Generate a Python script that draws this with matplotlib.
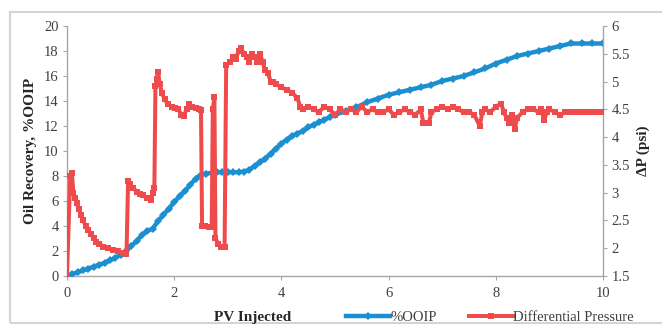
import matplotlib
matplotlib.use("Agg")
import matplotlib.pyplot as plt
from matplotlib.lines import Line2D
from matplotlib.patches import Rectangle

plt.rcParams['font.family'] = ['Liberation Serif', 'DejaVu Serif']

# Oil recovery (%OOIP) vs pore volumes injected
pv_ooip = [0.0, 0.1, 0.2, 0.3, 0.4, 0.5, 0.6, 0.7, 0.8, 0.9,
           1.0, 1.1, 1.2, 1.3, 1.4, 1.5, 1.6, 1.7, 1.8, 1.9,
           2.0, 2.1, 2.2, 2.3, 2.4, 2.5, 2.6, 2.7, 2.8, 2.9,
           3.0, 3.1, 3.2, 3.3, 3.4, 3.5, 3.6, 3.7, 3.8, 3.9,
           4.0, 4.1, 4.2, 4.3, 4.4, 4.5, 4.6, 4.7, 4.8, 4.9,
           5.0, 5.2, 5.4, 5.6, 5.8, 6.0, 6.2, 6.4, 6.6, 6.8,
           7.0, 7.2, 7.4, 7.6, 7.8, 8.0, 8.2, 8.4, 8.6, 8.8,
           9.0, 9.2, 9.4, 9.6, 9.8, 10.0]
ooip = [0.0, 0.15, 0.3, 0.45, 0.6, 0.75, 0.9, 1.05, 1.25, 1.45,
        1.7, 2.0, 2.4, 2.8, 3.3, 3.6, 3.8, 4.4, 4.9, 5.4,
        5.9, 6.4, 6.8, 7.3, 7.8, 8.1, 8.2, 8.25, 8.3, 8.3,
        8.3, 8.3, 8.3, 8.35, 8.5, 8.8, 9.1, 9.4, 9.8, 10.2,
        10.6, 10.9, 11.2, 11.4, 11.6, 11.9, 12.1, 12.3, 12.5, 12.7,
        12.9, 13.2, 13.5, 13.9, 14.2, 14.5, 14.7, 14.9, 15.1, 15.3,
        15.6, 15.8, 16.0, 16.3, 16.6, 17.0, 17.3, 17.6, 17.8, 18.0,
        18.2, 18.4, 18.6, 18.6, 18.6, 18.6]

# Differential pressure (psi) vs pore volumes injected
pv_dp = [0.00, 0.06, 0.09, 0.12, 0.15, 0.18, 0.22, 0.26, 0.30, 0.35,
         0.40, 0.45, 0.50, 0.55, 0.60, 0.68, 0.76, 0.86, 0.95, 1.05,
         1.11, 1.14, 1.18, 1.24, 1.30, 1.36, 1.42, 1.50, 1.57, 1.60,
         1.63, 1.65, 1.68, 1.70, 1.73, 1.77, 1.82, 1.88, 1.95, 2.02,
         2.08, 2.13, 2.18, 2.23, 2.27, 2.33, 2.40, 2.46, 2.50, 2.52,
         2.58, 2.64, 2.70, 2.72, 2.75, 2.77, 2.82, 2.88, 2.94, 2.97,
         3.05, 3.10, 3.15, 3.20, 3.25, 3.30, 3.35, 3.40, 3.45, 3.50,
         3.55, 3.60, 3.65, 3.70, 3.75, 3.80, 3.85, 3.90, 4.00, 4.10,
         4.20, 4.30, 4.35, 4.40, 4.50, 4.60, 4.70, 4.80, 4.90, 5.00,
         5.10, 5.20, 5.30, 5.40, 5.50, 5.60, 5.70, 5.80, 5.90, 6.00,
         6.10, 6.20, 6.30, 6.40, 6.50, 6.60, 6.65, 6.75, 6.80, 6.90,
         7.00, 7.10, 7.20, 7.30, 7.40, 7.50, 7.60, 7.70, 7.75, 7.80,
         7.90, 8.00, 8.10, 8.15, 8.20, 8.25, 8.30, 8.35, 8.40, 8.50,
         8.60, 8.70, 8.80, 8.85, 8.90, 8.95, 9.00, 9.10, 9.20, 9.30,
         9.40, 9.50, 9.60, 9.70, 9.80, 9.90, 10.00]
dp = [1.50, 3.30, 3.35, 3.00, 2.90, 2.82, 2.70, 2.60, 2.50, 2.40,
      2.32, 2.25, 2.18, 2.12, 2.08, 2.03, 2.00, 1.97, 1.95, 1.92,
      1.90, 3.21, 3.15, 3.08, 3.02, 2.98, 2.95, 2.90, 2.87, 3.00,
      3.08, 4.92, 5.05, 5.17, 4.95, 4.80, 4.68, 4.60, 4.55, 4.52,
      4.50, 4.40, 4.38, 4.50, 4.60, 4.55, 4.52, 4.50, 4.48, 2.40,
      2.40, 2.38, 2.38, 4.50, 4.72, 2.18, 2.08, 2.03, 2.03, 5.30,
      5.35, 5.45, 5.40, 5.55, 5.60, 5.50, 5.45, 5.35, 5.50, 5.45,
      5.35, 5.50, 5.35, 5.20, 5.15, 5.00, 5.00, 4.95, 4.90, 4.85,
      4.80, 4.70, 4.55, 4.50, 4.55, 4.50, 4.45, 4.55, 4.50, 4.40,
      4.50, 4.45, 4.50, 4.45, 4.55, 4.45, 4.50, 4.45, 4.45, 4.50,
      4.40, 4.45, 4.50, 4.45, 4.40, 4.50, 4.25, 4.25, 4.45, 4.50,
      4.55, 4.50, 4.55, 4.50, 4.45, 4.45, 4.40, 4.20, 4.45, 4.50,
      4.45, 4.55, 4.60, 4.45, 4.35, 4.25, 4.40, 4.15, 4.35, 4.45,
      4.50, 4.50, 4.45, 4.50, 4.30, 4.45, 4.50, 4.45, 4.40, 4.45,
      4.45, 4.45, 4.45, 4.45, 4.45, 4.45, 4.45]

x_ticks = [0, 2, 4, 6, 8, 10]
left_ticks = [0, 2, 4, 6, 8, 10, 12, 14, 16, 18, 20]
right_ticks = [1.5, 2, 2.5, 3, 3.5, 4, 4.5, 5, 5.5, 6]
right_labels = ['1.5', '2', '2.5', '3', '3.5', '4', '4.5', '5', '5.5', '6']

BLUE = '#1b8fd0'
RED = '#ee4c4c'
SPINE = '#a6a6a6'
TXT = '#404040'

W, H = 662, 325
fig = plt.figure(figsize=(W / 100, H / 100), dpi=100)
fig.patch.set_facecolor('white')

# light outer frame
fig.patches.append(Rectangle((10 / W, 2 / H), 1.0, (H - 14) / H, transform=fig.transFigure,
                             fill=False, edgecolor='#d4d4d4', linewidth=1.5))

ax = fig.add_axes([67 / W, 49 / H, 536 / W, 250 / H])
ax2 = ax.twinx()

ax.plot(pv_ooip, ooip, color=BLUE, linewidth=3.2, marker='D', markersize=4.4,
        markeredgewidth=0, zorder=3)
ax2.plot(pv_dp, dp, color=RED, linewidth=2.9, marker='s', markersize=4.6,
         markeredgewidth=0, zorder=3)

ax.set_xlim(0, 10)
ax.set_ylim(0, 20)
ax2.set_ylim(1.5, 6)
ax.set_xticks(x_ticks)
ax.set_yticks(left_ticks)
ax2.set_yticks(right_ticks)
ax2.set_yticklabels(right_labels)

for a in (ax, ax2):
    a.spines['top'].set_visible(False)
    for s in ('left', 'right', 'bottom'):
        a.spines[s].set_color(SPINE)
        a.spines[s].set_linewidth(1.0)
    a.tick_params(direction='out', length=3, width=0.8, color=SPINE,
                  labelsize=10.5, labelcolor=TXT)
ax.spines['right'].set_visible(False)
ax2.spines['left'].set_visible(False)
ax2.spines['bottom'].set_visible(False)
ax.tick_params(axis='x', pad=5)
ax.tick_params(axis='y', pad=3)
ax2.tick_params(axis='y', pad=3)

ax.set_ylabel('Oil Recovery, %OOIP', fontsize=11, fontweight='bold', color='#262626', labelpad=5)
ax2.set_ylabel('ΔP (psi)', fontsize=11, fontweight='bold', color='#262626', labelpad=5)
fig.text(253 / W, 1 - 318 / H, 'PV Injected', fontsize=11, fontweight='bold',
         color='#262626', ha='center', va='center')

handles = [
    Line2D([], [], color=BLUE, linewidth=3.2, marker='D', markersize=4.4, markeredgewidth=0),
    Line2D([], [], color=RED, linewidth=2.9, marker='s', markersize=4.6, markeredgewidth=0),
]
fig.legend(handles, ['%OOIP', 'Differential Pressure'], loc='center',
           bbox_to_anchor=(490 / W, 1 - 317 / H), ncol=2, frameon=False,
           fontsize=10.5, handlelength=3.0, handletextpad=0.05, columnspacing=2.2,
           labelcolor=TXT, markerscale=1.0)

fig.savefig('out.png', dpi=100, facecolor='white')
